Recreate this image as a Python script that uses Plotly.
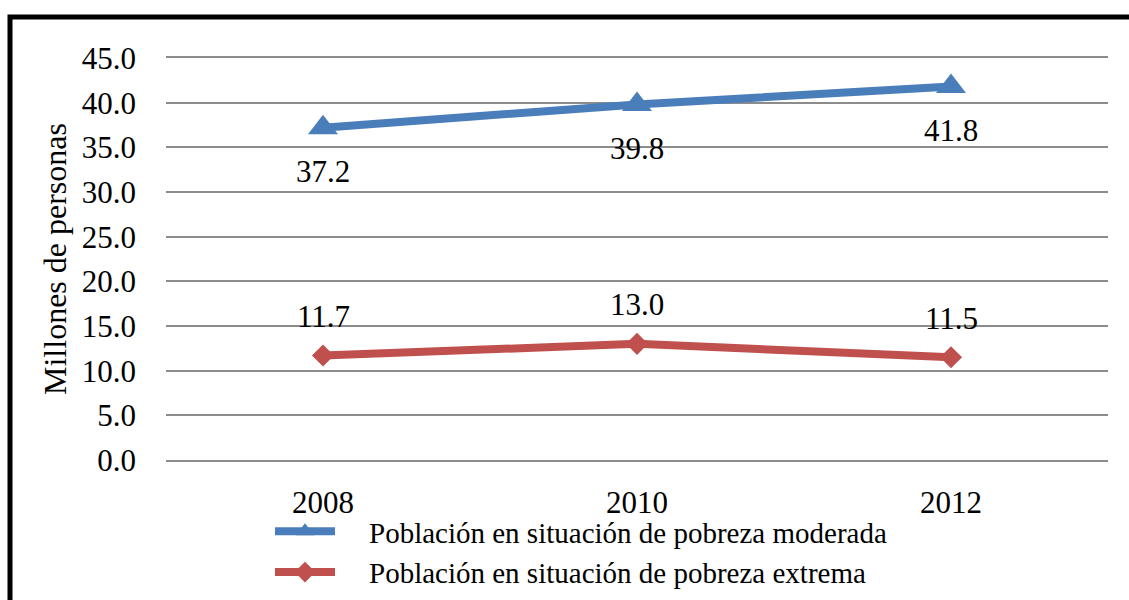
import plotly.graph_objects as go

years = ["2008", "2010", "2012"]
moderada = [37.2, 39.8, 41.8]
extrema = [11.7, 13.0, 11.5]
name_mod = "Población en situación de pobreza moderada"
name_ext = "Población en situación de pobreza extrema"
y_ticks = [0, 5, 10, 15, 20, 25, 30, 35, 40, 45]

BLUE = "#4A7EBB"
RED = "#C0504D"
GRID = "#8C8C8C"
FONT = "Liberation Serif"
PAD = "\u00a0" * 4

fig = go.Figure()
fig.add_trace(go.Scatter(
    x=years, y=moderada, name=PAD + name_mod, mode="lines+markers",
    line=dict(color=BLUE, width=8),
    marker=dict(symbol="triangle-up", size=26, color=BLUE),
))
fig.add_trace(go.Scatter(
    x=years, y=extrema, name=PAD + name_ext, mode="lines+markers",
    line=dict(color=RED, width=8),
    marker=dict(symbol="diamond", size=17, color=RED),
))

for i, v in enumerate(moderada):
    fig.add_annotation(x=i, y=v, text=f"{v:.1f}", showarrow=False,
                       yshift=-44, font=dict(family=FONT, size=31, color="black"))
for i, v in enumerate(extrema):
    fig.add_annotation(x=i, y=v, text=f"{v:.1f}", showarrow=False,
                       yshift=39, font=dict(family=FONT, size=31, color="black"))

# outer black frame
fig.add_shape(type="rect", xref="paper", yref="paper",
              x0=(10 - 166) / 942, x1=(1140 - 166) / 942,
              y0=(460 - 620) / 402, y1=1 + (58 - 17) / 402,
              line=dict(color="black", width=5), fillcolor="rgba(0,0,0,0)",
              layer="above")

fig.update_layout(
    width=1129, height=600,
    margin=dict(l=166, r=21, t=58, b=140, autoexpand=False),
    paper_bgcolor="white", plot_bgcolor="white",
    font=dict(family=FONT, color="black"),
    showlegend=True,
    legend=dict(
        x=(270 - 166) / 942, y=(460 - 506) / 402, xanchor="left", yanchor="top",
        font=dict(family=FONT, size=29, color="black"),
        itemwidth=60, tracegroupgap=0, bgcolor="rgba(0,0,0,0)",
    ),
    xaxis=dict(
        type="category", range=[-0.5, 2.5], showgrid=False,
        showline=True, mirror=True, linecolor=GRID, linewidth=2,
        zeroline=False, ticks="", tickfont=dict(size=31, family=FONT),
        ticklabelstandoff=14,
    ),
    yaxis=dict(
        range=[0, 45], tickvals=y_ticks, ticktext=[f"{t:.1f}" for t in y_ticks],
        showgrid=True, gridcolor=GRID, gridwidth=2, zeroline=False,
        showline=False, ticks="", tickfont=dict(size=31, family=FONT),
        ticklabelstandoff=29,
        title=dict(text="Millones de personas", font=dict(size=32, family=FONT),
                   standoff=5),
    ),
)

fig.write_html("out.html", config={"displayModeBar": False},
               post_script="document.body.style.margin='0';")
